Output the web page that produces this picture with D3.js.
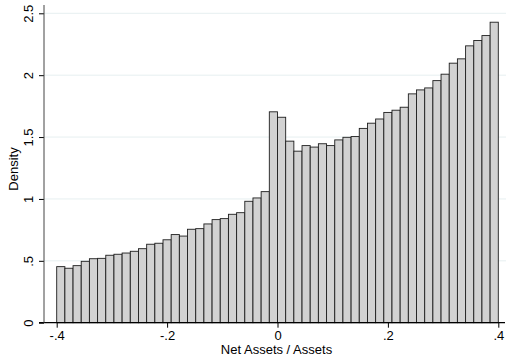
<!DOCTYPE html>
<html>
<head>
<meta charset="utf-8">
<script src="https://cdn.jsdelivr.net/npm/d3@7"></script>
<style>
  html, body { margin: 0; padding: 0; background: #fff; }
  svg { display: block; font-family: "Liberation Sans", Arial, sans-serif; }
</style>
</head>
<body>
<svg id="chart" width="506" height="358"></svg>
<script>
// Histogram of Net Assets / Assets: 54 equal-width bins spanning [-.4, .4]
const binStart = -0.4;
const binEnd = 0.4;
const density = [
  0.453, 0.440, 0.461, 0.496, 0.517, 0.520, 0.545, 0.553, 0.563, 0.577,
  0.598, 0.634, 0.642, 0.670, 0.712, 0.700, 0.755, 0.760, 0.798, 0.833,
  0.841, 0.876, 0.889, 0.981, 1.008, 1.059, 1.704, 1.660, 1.467, 1.386,
  1.431, 1.419, 1.446, 1.431, 1.477, 1.498, 1.504, 1.570, 1.612, 1.646,
  1.699, 1.717, 1.741, 1.849, 1.881, 1.897, 1.956, 2.008, 2.097, 2.132,
  2.237, 2.280, 2.320, 2.428
];
const xTicks = [-0.4, -0.2, 0, 0.2, 0.4];
const xTickLabels = ["-.4", "-.2", "0", ".2", ".4"];
const yTicks = [0, 0.5, 1, 1.5, 2, 2.5];
const yTickLabels = ["0", ".5", "1", "1.5", "2", "2.5"];
const xTitle = "Net Assets / Assets";
const yTitle = "Density";

const svg = d3.select("#chart");
const axisX = 44;          // position of the y axis line
const baseY = 322.7;       // position of the x axis line

const x = d3.scaleLinear().domain([binStart, binEnd]).range([56.7, 498.3]);
const y = d3.scaleLinear().domain([0, 2.5]).range([baseY, 13.3]);
const binWidth = (binEnd - binStart) / density.length;

const bins = density.map((d, i) => ({
  x0: binStart + i * binWidth,
  x1: binStart + (i + 1) * binWidth,
  d
}));

// horizontal grid lines
svg.append("g")
  .selectAll("line")
  .data(yTicks.filter(t => t > 0))
  .join("line")
  .attr("x1", axisX).attr("x2", 506)
  .attr("y1", d => y(d)).attr("y2", d => y(d))
  .attr("stroke", "#e6eff0")
  .attr("stroke-width", 1);

// bars
svg.append("g")
  .selectAll("rect")
  .data(bins)
  .join("rect")
  .attr("x", b => x(b.x0))
  .attr("width", b => x(b.x1) - x(b.x0))
  .attr("y", b => y(b.d))
  .attr("height", b => y(0) - y(b.d))
  .attr("fill", "#d2d2d2")
  .attr("stroke", "#1e1e1e")
  .attr("stroke-width", 0.9);

// x axis
const gx = svg.append("g")
  .attr("transform", `translate(0,${baseY})`)
  .call(d3.axisBottom(x)
    .tickValues(xTicks)
    .tickFormat((d, i) => xTickLabels[i])
    .tickSize(5)
    .tickSizeOuter(0));
gx.select(".domain").remove();
gx.selectAll(".tick line").attr("stroke", "#000");
gx.selectAll(".tick text")
  .attr("font-size", 13)
  .attr("fill", "#000")
  .attr("y", 8)
  .attr("dy", "0.71em");
svg.append("line")
  .attr("x1", axisX - 5).attr("x2", 505)
  .attr("y1", baseY).attr("y2", baseY)
  .attr("stroke", "#000").attr("stroke-width", 1.2);

// y axis
const gy = svg.append("g")
  .attr("transform", `translate(${axisX},0)`)
  .call(d3.axisLeft(y)
    .tickValues(yTicks)
    .tickFormat((d, i) => yTickLabels[i])
    .tickSize(5)
    .tickSizeOuter(0));
gy.select(".domain").remove();
gy.selectAll(".tick line").attr("stroke", "#000");
gy.selectAll(".tick text")
  .attr("font-size", 13)
  .attr("fill", "#000")
  .attr("x", null).attr("dy", null)
  .attr("text-anchor", "middle")
  .attr("transform", "translate(-11,0) rotate(-90)");
svg.append("line")
  .attr("x1", axisX).attr("x2", axisX)
  .attr("y1", baseY).attr("y2", 5)
  .attr("stroke", "#444").attr("stroke-width", 1);

// axis titles
svg.append("text")
  .attr("x", (x(binStart) + x(binEnd)) / 2 - 1)
  .attr("y", 354)
  .attr("text-anchor", "middle")
  .attr("font-size", 13)
  .text(xTitle);

svg.append("text")
  .attr("transform", `translate(17.5,${y(1.25) + 1}) rotate(-90)`)
  .attr("text-anchor", "middle")
  .attr("font-size", 13)
  .text(yTitle);
</script>
</body>
</html>
